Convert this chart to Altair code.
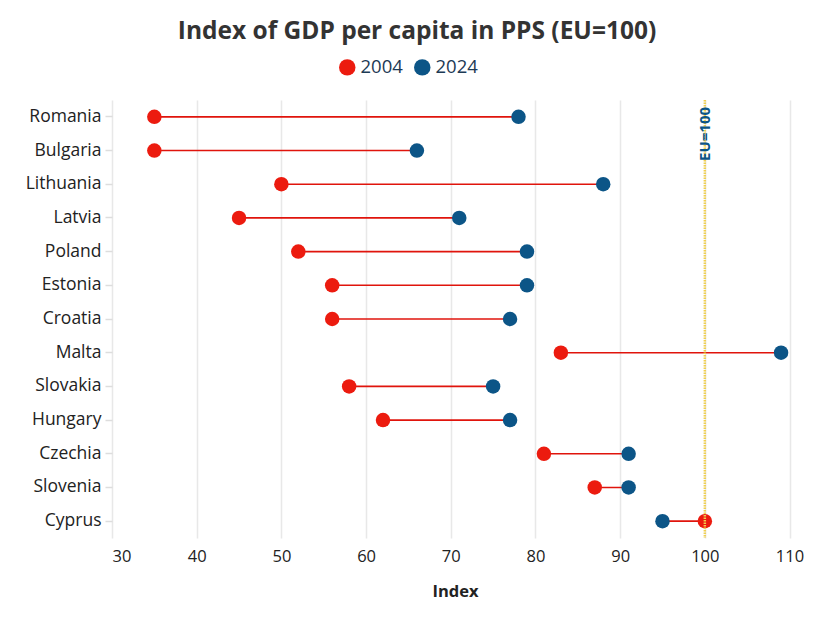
import altair as alt
import pandas as pd

countries = ["Romania", "Bulgaria", "Lithuania", "Latvia", "Poland", "Estonia",
             "Croatia", "Malta", "Slovakia", "Hungary", "Czechia", "Slovenia", "Cyprus"]
v2004 = [35, 35, 50, 45, 52, 56, 56, 83, 58, 62, 81, 87, 100]
v2024 = [78, 66, 88, 71, 79, 79, 77, 109, 75, 77, 91, 91, 95]
years = ["2004", "2024"]
colors = ["#ec1b0f", "#0c5587"]
x_ticks = [30, 40, 50, 60, 70, 80, 90, 100, 110]
eu_value = [100]
eu_label = ["EU=100"]

FONT = "Open Sans"

wide = pd.DataFrame({"country": countries, "v2004": v2004, "v2024": v2024})
long = pd.concat([
    pd.DataFrame({"country": countries, "year": years[0], "value": v2004}),
    pd.DataFrame({"country": countries, "year": years[1], "value": v2024}),
])
eu = pd.DataFrame({"v": eu_value, "label": eu_label})

xscale = alt.Scale(domain=[30, 111], nice=False, zero=False)
yenc = alt.Y("country:N", sort=countries,
             scale=alt.Scale(paddingInner=0, paddingOuter=0),
             axis=alt.Axis(title=None, labelFontSize=17.5, labelColor="#222",
                           labelFont=FONT, tickColor="#dddddd", tickSize=7,
                           tickWidth=1.5, labelPadding=4, domain=False, grid=False))

rules = alt.Chart(wide).mark_rule(color="#e0140c", strokeWidth=1.6).encode(
    x=alt.X("v2004:Q", scale=xscale,
            axis=alt.Axis(values=x_ticks, title="Index", titleFontSize=16.5,
                          titleFont=FONT, titleFontWeight="bold", titleColor="#222",
                          titlePadding=19, labelFontSize=16.5, labelColor="#222",
                          labelFont=FONT, labelPadding=10, ticks=False, domain=False,
                          grid=True, gridColor="#e8e8e8", gridWidth=1.5)),
    x2="v2024:Q",
    y=yenc,
)

points = alt.Chart(long).mark_circle(size=210, opacity=1).encode(
    x=alt.X("value:Q", scale=xscale),
    y=yenc,
    color=alt.Color("year:N", scale=alt.Scale(domain=years, range=colors),
                    legend=alt.Legend(title=None, orient="none", direction="horizontal",
                                      legendX=226, legendY=-42, symbolType="circle",
                                      symbolSize=270, symbolStrokeWidth=0,
                                      labelFontSize=18.5, labelFont=FONT,
                                      labelColor="#1d3a55", symbolOffset=0,
                                      columnPadding=10, labelOffset=4)),
)

eu_rule = alt.Chart(eu).mark_rule(color="#f0d050", strokeWidth=2.5,
                                  strokeDash=[1.5, 1]).encode(
    x=alt.X("v:Q", scale=xscale), y=alt.value(0), y2=alt.value(438))

eu_text = alt.Chart(eu).mark_text(angle=270, align="center", baseline="middle",
                                  fontSize=15, fontWeight="bold", font=FONT,
                                  color="#0c5587").encode(
    x=alt.X("v:Q", scale=xscale), y=alt.value(34), text="label:N")

chart = alt.layer(rules, points, eu_rule, eu_text).properties(
    width=686, height=438,
    padding={"left": 104, "top": 92, "right": 11, "bottom": 68},
    autosize=alt.AutoSizeParams(type="none"),
    title=alt.TitleParams("Index of GDP per capita in PPS (EU=100)", fontSize=24.5,
                          font=FONT, fontWeight="bold", color="#333333",
                          anchor="middle", offset=14, dx=-38),
).configure_view(stroke=None)

chart.save("out.html", embed_options={"renderer": "svg", "actions": False})
